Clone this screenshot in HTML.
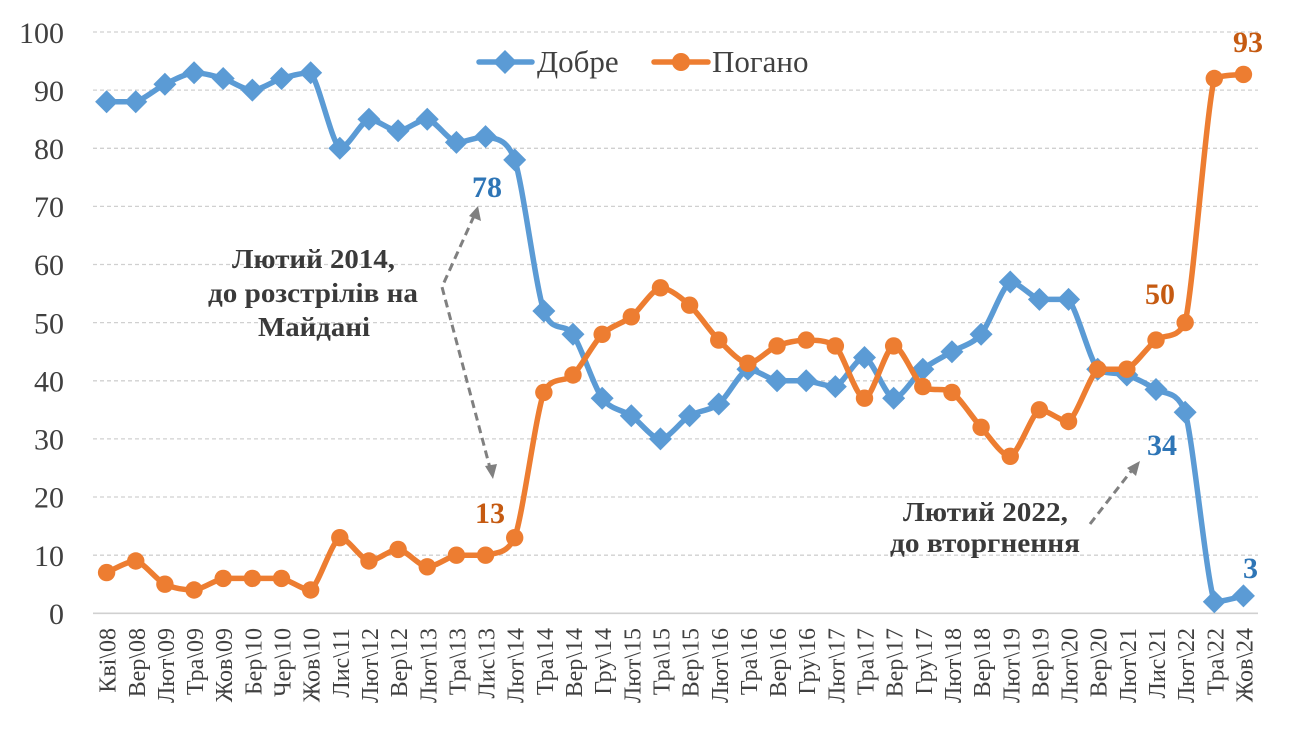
<!DOCTYPE html>
<html>
<head>
<meta charset="utf-8">
<style>
  html,body{margin:0;padding:0;background:#fff;}
  svg{display:block;}
  .yl{font-family:"Liberation Serif",serif;font-size:30px;fill:#404040;text-anchor:end;}
  .xl{font-family:"Liberation Serif",serif;font-size:24px;fill:#404040;text-anchor:end;}
  .lg{font-family:"Liberation Serif",serif;font-size:31px;fill:#404040;}
  .an{font-family:"Liberation Serif",serif;font-size:27px;font-weight:bold;fill:#3a3a3a;}
  .dl{font-family:"Liberation Serif",serif;font-size:30px;font-weight:bold;}
</style>
</head>
<body>
<svg width="1294" height="735" viewBox="0 0 1294 735" xmlns="http://www.w3.org/2000/svg">
  <defs>
    <polygon id="dm" points="0,-11.5 11.5,0 0,11.5 -11.5,0" fill="#5B9BD5"/>
    <circle id="cr" r="8.7" fill="#ED7D31"/>
  </defs>
  <rect width="1294" height="735" fill="#fff"/>
  <!-- gridlines -->
  <g stroke="#D0D0D0" stroke-width="1.3" stroke-dasharray="4,3">
    <line x1="93" x2="1258" y1="32" y2="32"/>
    <line x1="93" x2="1258" y1="90.1" y2="90.1"/>
    <line x1="93" x2="1258" y1="148.3" y2="148.3"/>
    <line x1="93" x2="1258" y1="206.4" y2="206.4"/>
    <line x1="93" x2="1258" y1="264.5" y2="264.5"/>
    <line x1="93" x2="1258" y1="322.6" y2="322.6"/>
    <line x1="93" x2="1258" y1="380.8" y2="380.8"/>
    <line x1="93" x2="1258" y1="438.9" y2="438.9"/>
    <line x1="93" x2="1258" y1="497" y2="497"/>
    <line x1="93" x2="1258" y1="555.2" y2="555.2"/>
  </g>
  <line x1="93" x2="1258" y1="613.3" y2="613.3" stroke="#D0D0D0" stroke-width="1.6"/>

  <!-- y labels -->
  <g class="yl">
    <text x="64" y="43">100</text>
    <text x="64" y="101">90</text>
    <text x="64" y="159">80</text>
    <text x="64" y="217">70</text>
    <text x="64" y="275">60</text>
    <text x="64" y="333.5">50</text>
    <text x="64" y="391.5">40</text>
    <text x="64" y="449.5">30</text>
    <text x="64" y="507.5">20</text>
    <text x="64" y="566">10</text>
    <text x="64" y="624">0</text>
  </g>

  <!-- x labels -->
  <g class="xl">
    <text transform="translate(115.6,628) rotate(-90)">Кві\08</text>
    <text transform="translate(144.75,628) rotate(-90)">Вер\08</text>
    <text transform="translate(173.9,628) rotate(-90)">Лют\09</text>
    <text transform="translate(203.05,628) rotate(-90)">Тра\09</text>
    <text transform="translate(232.2,628) rotate(-90)">Жов\09</text>
    <text transform="translate(261.35,628) rotate(-90)">Бер\10</text>
    <text transform="translate(290.5,628) rotate(-90)">Чер\10</text>
    <text transform="translate(319.65,628) rotate(-90)">Жов\10</text>
    <text transform="translate(348.8,628) rotate(-90)">Лис\11</text>
    <text transform="translate(377.95,628) rotate(-90)">Лют\12</text>
    <text transform="translate(407.1,628) rotate(-90)">Вер\12</text>
    <text transform="translate(436.25,628) rotate(-90)">Лют\13</text>
    <text transform="translate(465.4,628) rotate(-90)">Тра\13</text>
    <text transform="translate(494.55,628) rotate(-90)">Лис\13</text>
    <text transform="translate(523.7,628) rotate(-90)">Лют\14</text>
    <text transform="translate(552.85,628) rotate(-90)">Тра\14</text>
    <text transform="translate(582,628) rotate(-90)">Вер\14</text>
    <text transform="translate(611.15,628) rotate(-90)">Гру\14</text>
    <text transform="translate(640.3,628) rotate(-90)">Лют\15</text>
    <text transform="translate(669.45,628) rotate(-90)">Тра\15</text>
    <text transform="translate(698.6,628) rotate(-90)">Вер\15</text>
    <text transform="translate(727.75,628) rotate(-90)">Лют\16</text>
    <text transform="translate(756.9,628) rotate(-90)">Тра\16</text>
    <text transform="translate(786.05,628) rotate(-90)">Вер\16</text>
    <text transform="translate(815.2,628) rotate(-90)">Гру\16</text>
    <text transform="translate(844.35,628) rotate(-90)">Лют\17</text>
    <text transform="translate(873.5,628) rotate(-90)">Тра\17</text>
    <text transform="translate(902.65,628) rotate(-90)">Вер\17</text>
    <text transform="translate(931.8,628) rotate(-90)">Гру\17</text>
    <text transform="translate(960.95,628) rotate(-90)">Лют\18</text>
    <text transform="translate(990.1,628) rotate(-90)">Вер\18</text>
    <text transform="translate(1019.25,628) rotate(-90)">Лют\19</text>
    <text transform="translate(1048.4,628) rotate(-90)">Вер\19</text>
    <text transform="translate(1077.55,628) rotate(-90)">Лют\20</text>
    <text transform="translate(1106.7,628) rotate(-90)">Вер\20</text>
    <text transform="translate(1135.85,628) rotate(-90)">Лют\21</text>
    <text transform="translate(1165,628) rotate(-90)">Лис\21</text>
    <text transform="translate(1194.15,628) rotate(-90)">Лют\22</text>
    <text transform="translate(1223.3,628) rotate(-90)">Тра\22</text>
    <text transform="translate(1252.45,628) rotate(-90)">Жов\24</text>
  </g>

  <!-- Добре series -->
  <polyline id="sBlue" fill="none" stroke="#5B9BD5" stroke-width="5.5" stroke-linejoin="round" stroke-linecap="round"
    points="106.6,101.8 135.75,101.8 164.9,84.3 194.05,72.7 223.2,78.5 252.35,90.1 281.5,78.5 310.65,72.7 339.8,148.3 368.95,119.2 398.1,130.8 427.25,119.2 456.4,142.4 485.55,136.6 514.7,159.9 543.85,311.0 573,334.3 602.15,398.2 631.3,415.7 660.45,438.9 689.6,415.7 718.75,404.0 747.9,369.2 777.05,380.8 806.2,380.8 835.35,386.6 864.5,357.5 893.65,398.2 922.8,369.2 951.95,351.7 981.1,334.3 1010.25,282.0 1039.4,299.4 1068.55,299.4 1097.7,369.2 1126.85,375.0 1156,389.5 1185.15,412.2 1214.3,601.7 1243.45,595.9"/>
  <g>
    <use href="#dm" x="106.6" y="101.8"/><use href="#dm" x="135.75" y="101.8"/><use href="#dm" x="164.9" y="84.3"/><use href="#dm" x="194.05" y="72.7"/><use href="#dm" x="223.2" y="78.5"/><use href="#dm" x="252.35" y="90.1"/><use href="#dm" x="281.5" y="78.5"/><use href="#dm" x="310.65" y="72.7"/><use href="#dm" x="339.8" y="148.3"/><use href="#dm" x="368.95" y="119.2"/><use href="#dm" x="398.1" y="130.8"/><use href="#dm" x="427.25" y="119.2"/><use href="#dm" x="456.4" y="142.4"/><use href="#dm" x="485.55" y="136.6"/><use href="#dm" x="514.7" y="159.9"/><use href="#dm" x="543.85" y="311.0"/><use href="#dm" x="573" y="334.3"/><use href="#dm" x="602.15" y="398.2"/><use href="#dm" x="631.3" y="415.7"/><use href="#dm" x="660.45" y="438.9"/><use href="#dm" x="689.6" y="415.7"/><use href="#dm" x="718.75" y="404.0"/><use href="#dm" x="747.9" y="369.2"/><use href="#dm" x="777.05" y="380.8"/><use href="#dm" x="806.2" y="380.8"/><use href="#dm" x="835.35" y="386.6"/><use href="#dm" x="864.5" y="357.5"/><use href="#dm" x="893.65" y="398.2"/><use href="#dm" x="922.8" y="369.2"/><use href="#dm" x="951.95" y="351.7"/><use href="#dm" x="981.1" y="334.3"/><use href="#dm" x="1010.25" y="282.0"/><use href="#dm" x="1039.4" y="299.4"/><use href="#dm" x="1068.55" y="299.4"/><use href="#dm" x="1097.7" y="369.2"/><use href="#dm" x="1126.85" y="375.0"/><use href="#dm" x="1156" y="389.5"/><use href="#dm" x="1185.15" y="412.2"/><use href="#dm" x="1214.3" y="601.7"/><use href="#dm" x="1243.45" y="595.9"/>
  </g>

  <!-- Погано series -->
  <polyline id="sOrange" fill="none" stroke="#ED7D31" stroke-width="5.5" stroke-linejoin="round" stroke-linecap="round"
    points="106.6,572.6 135.75,561.0 164.9,584.2 194.05,590.0 223.2,578.4 252.35,578.4 281.5,578.4 310.65,590.0 339.8,537.7 368.95,561.0 398.1,549.4 427.25,566.8 456.4,555.2 485.55,555.2 514.7,537.7 543.85,392.4 573,375.0 602.15,334.3 631.3,316.8 660.45,287.8 689.6,305.2 718.75,340.1 747.9,363.3 777.05,345.9 806.2,340.1 835.35,345.9 864.5,398.2 893.65,345.9 922.8,386.6 951.95,392.4 981.1,427.3 1010.25,456.3 1039.4,409.8 1068.55,421.5 1097.7,369.2 1126.85,369.2 1156,340.1 1185.15,322.6 1214.3,78.5 1243.45,74.4"/>
  <g>
    <use href="#cr" x="106.6" y="572.6"/><use href="#cr" x="135.75" y="561.0"/><use href="#cr" x="164.9" y="584.2"/><use href="#cr" x="194.05" y="590.0"/><use href="#cr" x="223.2" y="578.4"/><use href="#cr" x="252.35" y="578.4"/><use href="#cr" x="281.5" y="578.4"/><use href="#cr" x="310.65" y="590.0"/><use href="#cr" x="339.8" y="537.7"/><use href="#cr" x="368.95" y="561.0"/><use href="#cr" x="398.1" y="549.4"/><use href="#cr" x="427.25" y="566.8"/><use href="#cr" x="456.4" y="555.2"/><use href="#cr" x="485.55" y="555.2"/><use href="#cr" x="514.7" y="537.7"/><use href="#cr" x="543.85" y="392.4"/><use href="#cr" x="573" y="375.0"/><use href="#cr" x="602.15" y="334.3"/><use href="#cr" x="631.3" y="316.8"/><use href="#cr" x="660.45" y="287.8"/><use href="#cr" x="689.6" y="305.2"/><use href="#cr" x="718.75" y="340.1"/><use href="#cr" x="747.9" y="363.3"/><use href="#cr" x="777.05" y="345.9"/><use href="#cr" x="806.2" y="340.1"/><use href="#cr" x="835.35" y="345.9"/><use href="#cr" x="864.5" y="398.2"/><use href="#cr" x="893.65" y="345.9"/><use href="#cr" x="922.8" y="386.6"/><use href="#cr" x="951.95" y="392.4"/><use href="#cr" x="981.1" y="427.3"/><use href="#cr" x="1010.25" y="456.3"/><use href="#cr" x="1039.4" y="409.8"/><use href="#cr" x="1068.55" y="421.5"/><use href="#cr" x="1097.7" y="369.2"/><use href="#cr" x="1126.85" y="369.2"/><use href="#cr" x="1156" y="340.1"/><use href="#cr" x="1185.15" y="322.6"/><use href="#cr" x="1214.3" y="78.5"/><use href="#cr" x="1243.45" y="74.4"/>
  </g>

  <!-- legend -->
  <line x1="479" x2="532" y1="62" y2="62" stroke="#5B9BD5" stroke-width="5.5" stroke-linecap="round"/>
  <polygon points="505,50 517,62 505,74 493,62" fill="#5B9BD5"/>
  <text class="lg" x="537" y="72">Добре</text>
  <line x1="654" x2="708" y1="62" y2="62" stroke="#ED7D31" stroke-width="5.5" stroke-linecap="round"/>
  <circle cx="681" cy="62" r="9" fill="#ED7D31"/>
  <text class="lg" x="712" y="72">Погано</text>

  <!-- annotation arrows -->
  <g stroke="#808080" stroke-width="3" fill="none" stroke-dasharray="8,5">
    <polyline points="474,216 442,287 490,468"/>
    <line x1="1090" y1="524" x2="1132" y2="470"/>
  </g>
  <g fill="#808080">
    <polygon points="478,206 481,221 469,216"/>
    <polygon points="493,479 485,466 497,464"/>
    <polygon points="1140,461 1136,476 1127,468"/>
  </g>

  <!-- annotation text -->
  <text class="an" x="232" y="268" textLength="163" lengthAdjust="spacingAndGlyphs">Лютий 2014,</text>
  <text class="an" x="208" y="302" textLength="210" lengthAdjust="spacingAndGlyphs">до розстрілів на</text>
  <text class="an" x="258" y="336" textLength="112" lengthAdjust="spacingAndGlyphs">Майдані</text>
  <text class="an" x="903" y="521" textLength="165" lengthAdjust="spacingAndGlyphs">Лютий 2022,</text>
  <text class="an" x="890" y="552" textLength="190" lengthAdjust="spacingAndGlyphs">до вторгнення</text>

  <!-- data labels -->
  <g class="dl">
    <text x="472" y="197" fill="#2E75B6">78</text>
    <text x="1147" y="455" fill="#2E75B6">34</text>
    <text x="1243" y="578" fill="#2E75B6">3</text>
    <text x="475" y="523" fill="#C55A11">13</text>
    <text x="1145" y="304" fill="#C55A11">50</text>
    <text x="1233" y="52" fill="#C55A11">93</text>
  </g>
</svg>
<script>
(function(){
  function clamp(v,a,b){var lo=Math.min(a,b),hi=Math.max(a,b);return v<lo?lo:(v>hi?hi:v);}
  function smooth(id){
    var pl=document.getElementById(id); if(!pl) return;
    var raw=pl.getAttribute('points').trim().split(/\s+/).map(function(s){var a=s.split(',');return [parseFloat(a[0]),parseFloat(a[1])];});
    var n=raw.length, d='M'+raw[0][0]+','+raw[0][1];
    var k=1/7;
    for(var i=0;i<n-1;i++){
      var p0=raw[i>0?i-1:i],p1=raw[i],p2=raw[i+1],p3=raw[i+2<n?i+2:i+1];
      var c1x=p1[0]+(p2[0]-p0[0])*k,c1y=clamp(p1[1]+(p2[1]-p0[1])*k,p1[1],p2[1]);
      var c2x=p2[0]-(p3[0]-p1[0])*k,c2y=clamp(p2[1]-(p3[1]-p1[1])*k,p1[1],p2[1]);
      d+=' C'+c1x.toFixed(2)+','+c1y.toFixed(2)+' '+c2x.toFixed(2)+','+c2y.toFixed(2)+' '+p2[0]+','+p2[1];
    }
    var p=document.createElementNS('http://www.w3.org/2000/svg','path');
    p.setAttribute('d',d);
    ['fill','stroke','stroke-width','stroke-linejoin','stroke-linecap'].forEach(function(a){p.setAttribute(a,pl.getAttribute(a));});
    pl.parentNode.replaceChild(p,pl);
  }
  smooth('sBlue'); smooth('sOrange');
})();
</script>
</body>
</html>
